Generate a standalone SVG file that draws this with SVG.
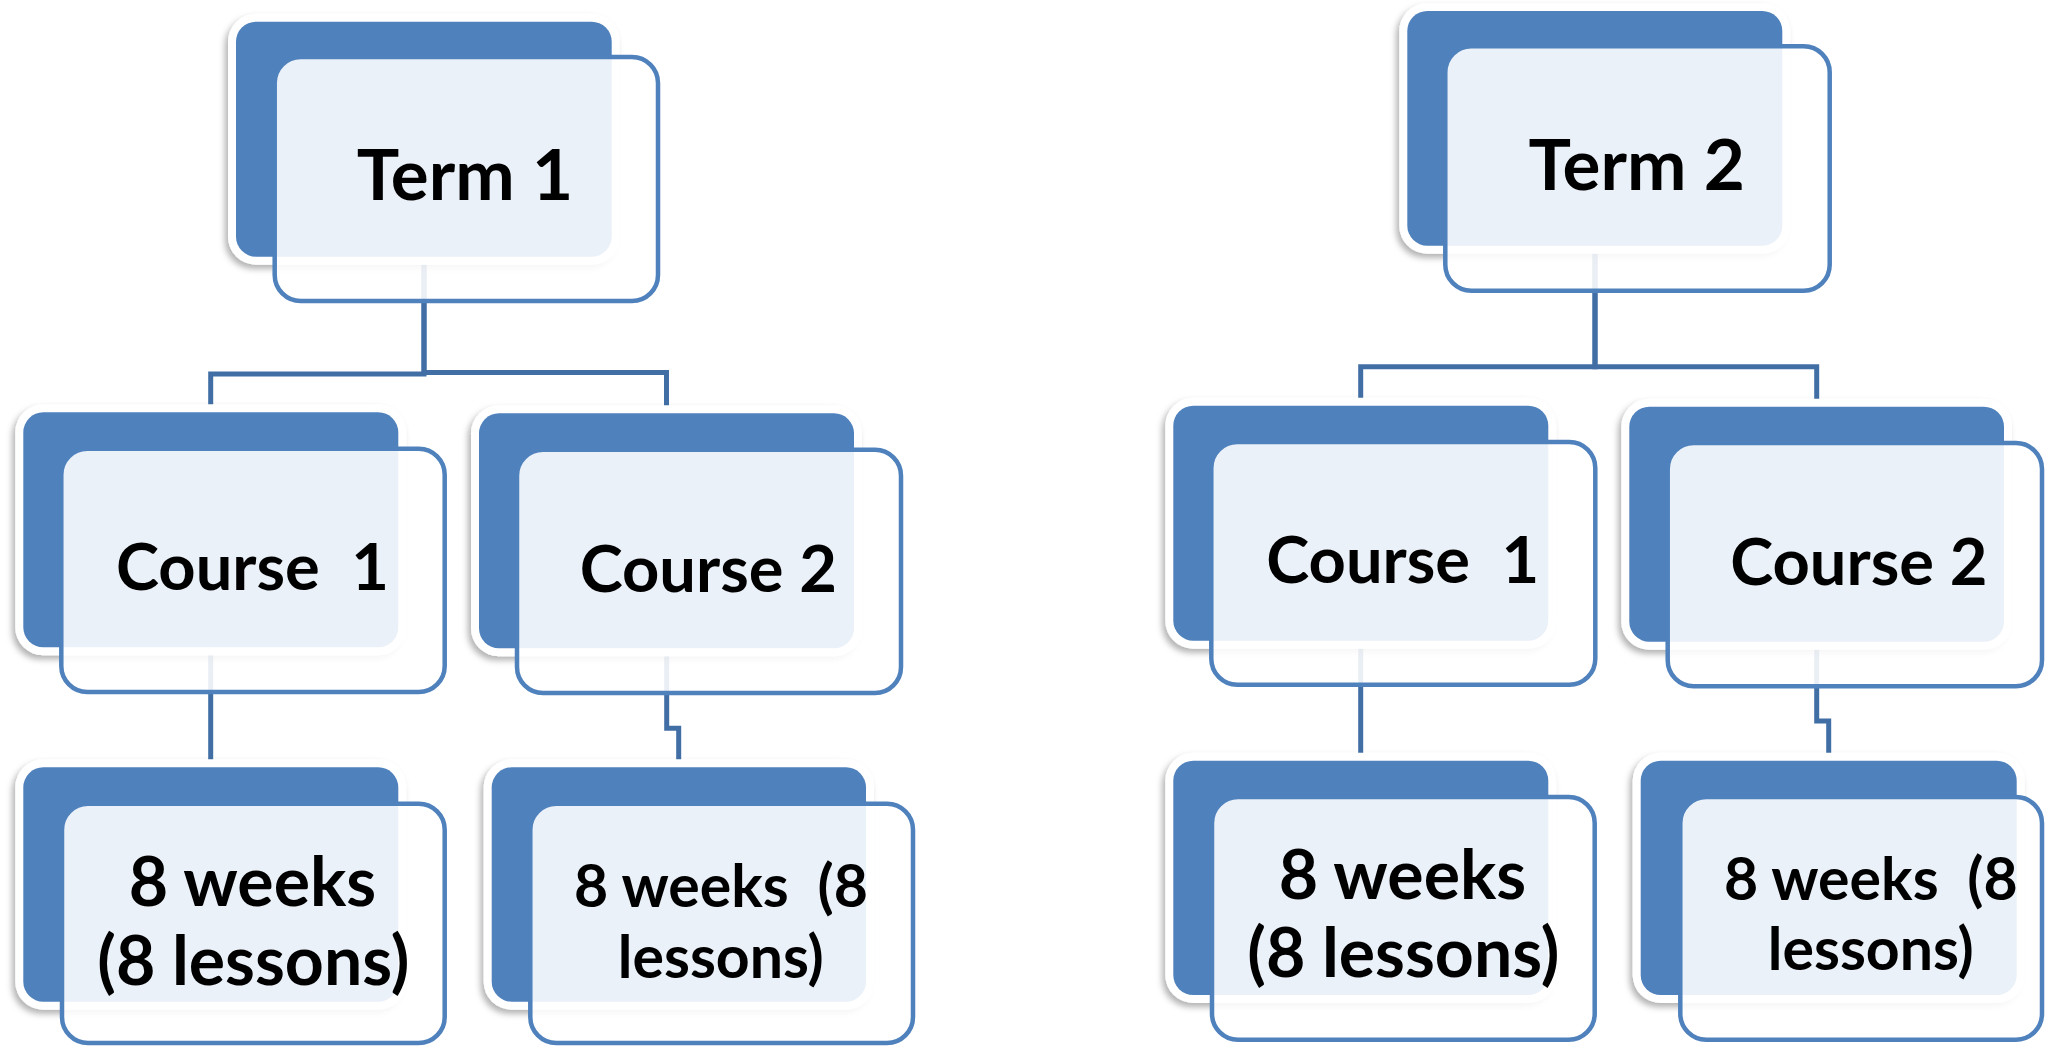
<svg xmlns="http://www.w3.org/2000/svg" width="2046" height="1046" viewBox="0 0 2046 1046">
<defs>
<filter id="sh" x="-10%" y="-10%" width="120%" height="125%">
<feDropShadow dx="-3" dy="4" stdDeviation="3" flood-color="#000" flood-opacity="0.3"/>
</filter>
</defs>
<style>
.bd{fill:#fff;filter:url(#sh)}
.bk{fill:#4F81BD}
.fr{fill:#fff;fill-opacity:0.885;stroke:#4F81BD;stroke-width:4.5}
.cn{fill:none;stroke:#416FA5;stroke-width:5;stroke-linejoin:miter}
.t{font-family:Lato,"Open Sans","Liberation Sans",sans-serif;font-weight:bold;fill:#000;text-anchor:middle;white-space:pre}
.tm{font-size:71px}
.big{font-size:65px}
.ls{font-size:68px}
.sm{font-size:59px}
</style>
<rect width="2046" height="1046" fill="#fff"/>
<g id="connectors">
<path class="cn" d="M424,260 V374 H210.7 V412"/>
<path class="cn" d="M424,260 V372.5 H666.5 V413"/>
<path class="cn" d="M210.7,647 V767"/>
<path class="cn" d="M666.7,648 V728.3 H678.7 V767"/>
<path class="cn" d="M1595,245 V366.7 H1360.7 V405"/>
<path class="cn" d="M1595,245 V366.7 H1816.7 V406"/>
<path class="cn" d="M1360.7,640 V760"/>
<path class="cn" d="M1816.7,641 V721 H1828.7 V760"/>
</g>
<g id="term1">
<rect class="bd" x="228" y="13.7" width="391.7" height="251" rx="28"/>
<rect class="bk" x="236" y="21.7" width="375.7" height="235" rx="20"/>
<rect class="fr" x="274.7" y="57" width="383.3" height="244" rx="26"/>
<text class="t tm" x="465" y="200">Term 1</text>
</g>
<g id="course1-left">
<rect class="bd" x="15.3" y="404.3" width="391" height="251" rx="28"/>
<rect class="bk" x="23.3" y="412.3" width="375" height="235" rx="20"/>
<rect class="fr" x="61.3" y="448.7" width="383.4" height="243.3" rx="26"/>
<text class="t big" x="252.5" y="590" xml:space="preserve">Course  1</text>
</g>
<g id="course2-left">
<rect class="bd" x="471" y="405.3" width="391" height="251" rx="28"/>
<rect class="bk" x="479" y="413.3" width="375" height="235" rx="20"/>
<rect class="fr" x="517" y="449.7" width="384" height="243.3" rx="26"/>
<text class="t big" x="708.3" y="591.7">Course 2</text>
</g>
<g id="lesson1-left">
<rect class="bd" x="15.3" y="759.3" width="391" height="250.4" rx="28"/>
<rect class="bk" x="23.3" y="767.3" width="375" height="234.4" rx="20"/>
<rect class="fr" x="62" y="803.7" width="382.7" height="239.3" rx="26"/>
<text class="t ls" x="252.5" y="905.7">8 weeks</text>
<text class="t ls" x="253.3" y="985">(8 lessons)</text>
</g>
<g id="lesson2-left">
<rect class="bd" x="483.7" y="759.3" width="390.3" height="250.4" rx="28"/>
<rect class="bk" x="491.7" y="767.3" width="374.3" height="234.4" rx="20"/>
<rect class="fr" x="530.3" y="803.7" width="382.7" height="239.3" rx="26"/>
<text class="t sm" x="721" y="906.7" xml:space="preserve">8 weeks  (8</text>
<text class="t sm" x="720.8" y="978.3">lessons)</text>
</g>
<g id="term2">
<rect class="bd" x="1399.3" y="3" width="391" height="250.7" rx="28"/>
<rect class="bk" x="1407.3" y="11" width="375" height="234.7" rx="20"/>
<rect class="fr" x="1445.3" y="46.3" width="384.4" height="244.4" rx="26"/>
<text class="t tm" x="1636.7" y="190">Term 2</text>
</g>
<g id="course1-right">
<rect class="bd" x="1165.3" y="397.7" width="391" height="251" rx="28"/>
<rect class="bk" x="1173.3" y="405.7" width="375" height="235" rx="20"/>
<rect class="fr" x="1211.3" y="442" width="384" height="242.7" rx="26"/>
<text class="t big" x="1402.8" y="583.3" xml:space="preserve">Course  1</text>
</g>
<g id="course2-right">
<rect class="bd" x="1621.3" y="398.7" width="390.7" height="251" rx="28"/>
<rect class="bk" x="1629.3" y="406.7" width="374.7" height="235" rx="20"/>
<rect class="fr" x="1667.7" y="443" width="374.3" height="243.3" rx="26"/>
<text class="t big" x="1858.8" y="585">Course 2</text>
</g>
<g id="lesson1-right">
<rect class="bd" x="1165.3" y="752.7" width="391" height="250.3" rx="28"/>
<rect class="bk" x="1173.3" y="760.7" width="375" height="234.3" rx="20"/>
<rect class="fr" x="1212" y="797" width="382.7" height="242.7" rx="26"/>
<text class="t ls" x="1402.5" y="899">8 weeks</text>
<text class="t ls" x="1403.3" y="977.3">(8 lessons)</text>
</g>
<g id="lesson2-right">
<rect class="bd" x="1632.7" y="752.7" width="392" height="250.3" rx="28"/>
<rect class="bk" x="1640.7" y="760.7" width="376" height="234.3" rx="20"/>
<rect class="fr" x="1680.3" y="797" width="361.7" height="242.7" rx="26"/>
<text class="t sm" x="1870.8" y="900" xml:space="preserve">8 weeks  (8</text>
<text class="t sm" x="1870.8" y="970">lessons)</text>
</g>
</svg>
